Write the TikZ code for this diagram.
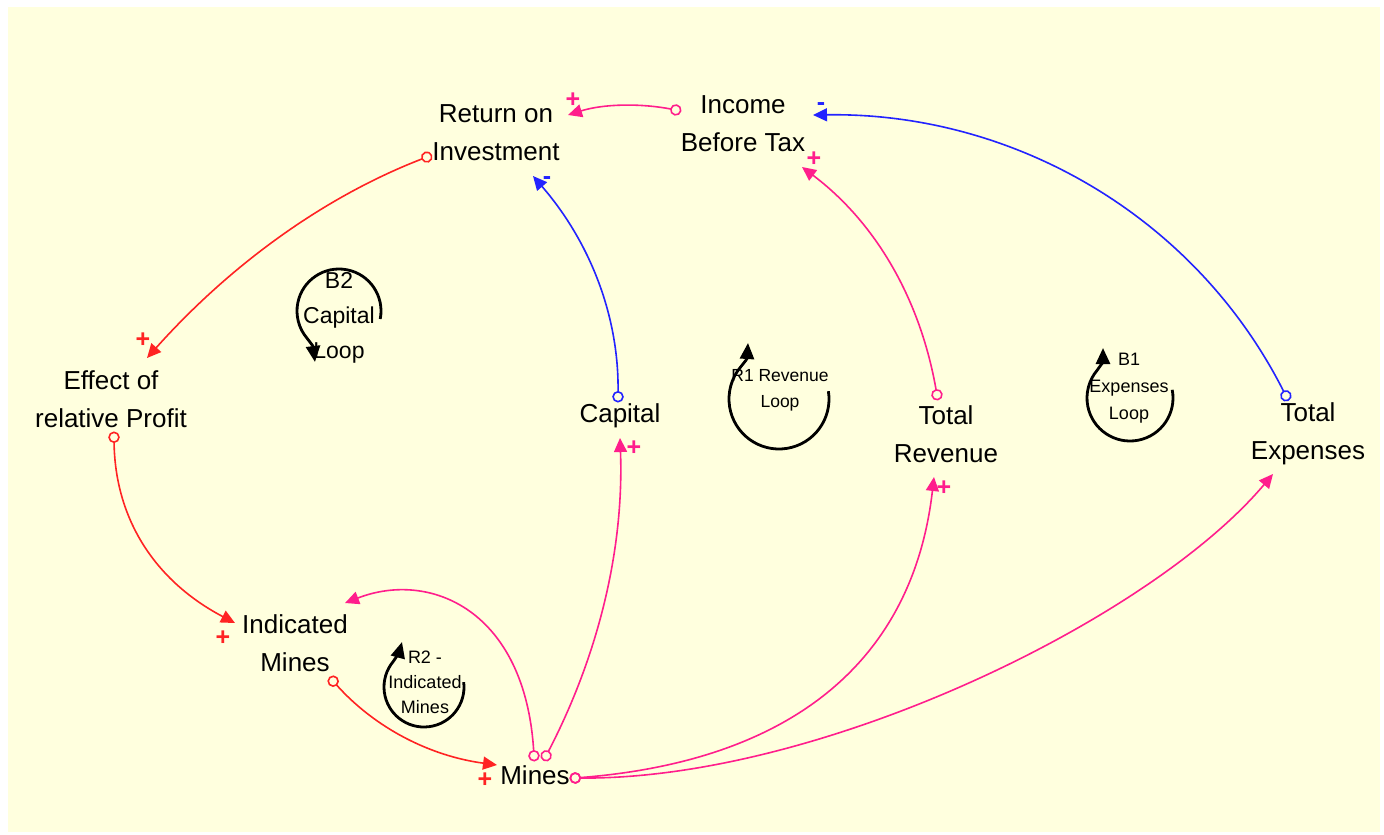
\documentclass[tikz,border=0pt]{standalone}
\usepackage{fontspec}
\setmainfont{Liberation Sans}
\usetikzlibrary{arrows.meta,calc}

\definecolor{paper}{RGB}{255,255,222}
\definecolor{linkpink}{RGB}{255,30,140}
\definecolor{linkred}{RGB}{255,35,35}
\definecolor{linkblue}{RGB}{35,35,255}

\tikzset{
  var/.style={align=center, inner sep=0pt, font=\fontsize{26}{38}\selectfont},
  link/.style={line width=1.6pt, shorten <=-5.5pt,
    {Circle[open,length=11.5pt,width=11.5pt]}-{Triangle[length=14pt,width=13pt]}},
  sign/.style={inner sep=0pt, font=\bfseries\fontsize{25}{25}\selectfont},
  loopmark/.style={line width=2.8pt, -{Triangle[length=16pt,width=14pt]}},
}

\begin{document}
\begin{tikzpicture}[x=1pt,y=-1pt]
  \useasboundingbox (0,0) rectangle (1384,835);
  \fill[white] (0,0) rectangle (1384,835);
  \fill[paper] (8,7) rectangle (1380,832);

  % variables
  \node[var] (roi)   at (496,133) {Return on\\Investment};
  \node[var] (ibt)   at (743,124) {Income\\Before Tax};
  \node[var] (eff)   at (111,399) {Effect of\\relative Profit};
  \node[var] (cap)   at (620,416) {Capital};
  \node[var] (tr)    at (946,434) {Total\\Revenue};
  \node[var] (te)    at (1308,434) {Total\\Expenses};
  \node[var] (im)    at (295,643) {Indicated\\Mines};
  \node[var] (mines) at (535,775) {Mines};

  % causal links
  \draw[link,linkpink] ($(ibt)+(-67,-14)$) .. controls (639,103) and (603,104) .. ($(roi)+(72,-18)$);
  \draw[link,linkblue] ($(te)+(-22,-38)$) .. controls (1195,216) and (1013,112) .. ($(ibt)+(70,-9)$);
  \draw[link,linkpink] ($(tr)+(-9,-39)$) .. controls (920,298) and (875,222) .. ($(ibt)+(59,43)$);
  \draw[link,linkblue] ($(cap)+(-2,-19)$) .. controls (619,316) and (590,242) .. ($(roi)+(37,43)$);
  \draw[link,linkred]  ($(roi)+(-69,24)$) .. controls (326,196) and (232,263) .. ($(eff)+(36,-41)$);
  \draw[link,linkred]  ($(eff)+(3,38)$) .. controls (115,519) and (155,581) .. ($(im)+(-60,-20)$);
  \draw[link,linkred]  ($(im)+(38,38)$) .. controls (375,728) and (430,756) .. ($(mines)+(-38,-10)$);
  \draw[link,linkpink] ($(mines)+(-1,-19)$) .. controls (525,610) and (430,570) .. ($(im)+(50,-40)$);
  \draw[link,linkpink] ($(mines)+(11,-19)$) .. controls (599,654) and (624,548) .. ($(cap)+(0,22)$);
  \draw[link,linkpink] ($(mines)+(40,3)$) .. controls (793,761) and (913,660) .. ($(tr)+(-12,43)$);
  \draw[link,linkpink] ($(mines)+(40,3)$) .. controls (820,780) and (1150,620) .. ($(te)+(-35,40)$);

  % link polarities
  \node[sign,text=linkpink] (p1) at (573,100) {+};
  \node[sign,text=linkblue] (p2) at (821,107) {-};
  \node[sign,text=linkpink] (p3) at (814,159) {+};
  \node[sign,text=linkblue] (p4) at (547,181) {-};
  \node[sign,text=linkred]  (p5) at (143,340) {+};
  \node[sign,text=linkred]  (p6) at (223,638) {+};
  \node[sign,text=linkred]  (p7) at (485,780) {+};
  \node[sign,text=linkpink] (p9) at (634,448) {+};
  \node[sign,text=linkpink] (p10) at (944,488) {+};

  % loop markers
  \draw[loopmark] (339,311) ++(11:42) arc[start angle=11, end angle=-220, radius=42]
    .. controls (313,346) .. (315,362);
  \node[align=center, inner sep=0pt, font=\fontsize{23}{35}\selectfont] (b2) at (339,318) {B2\\Capital\\Loop};

  \draw[loopmark] (779,399) ++(-9:50) arc[start angle=-9, end angle=220, radius=50]
    .. controls (747,359) .. (748,343);
  \node[align=center, inner sep=0pt, font=\fontsize{17.5}{26}\selectfont] (r1) at (780,390) {R1 Revenue\\Loop};

  \draw[loopmark] (1130,398) ++(-11:43) arc[start angle=-11, end angle=220, radius=43]
    .. controls (1103,362) .. (1103,348);
  \node[align=center, inner sep=0pt, font=\fontsize{18}{27}\selectfont] (b1) at (1129,388) {B1\\Expenses\\Loop};

  \draw[loopmark] (424,687) ++(-7:40) arc[start angle=-7, end angle=220, radius=40]
    .. controls (399,653) .. (402,642);
  \node[align=center, inner sep=0pt, font=\fontsize{18}{25}\selectfont] (r2) at (425,682) {R2 -\\Indicated\\Mines};
\end{tikzpicture}
\end{document}
